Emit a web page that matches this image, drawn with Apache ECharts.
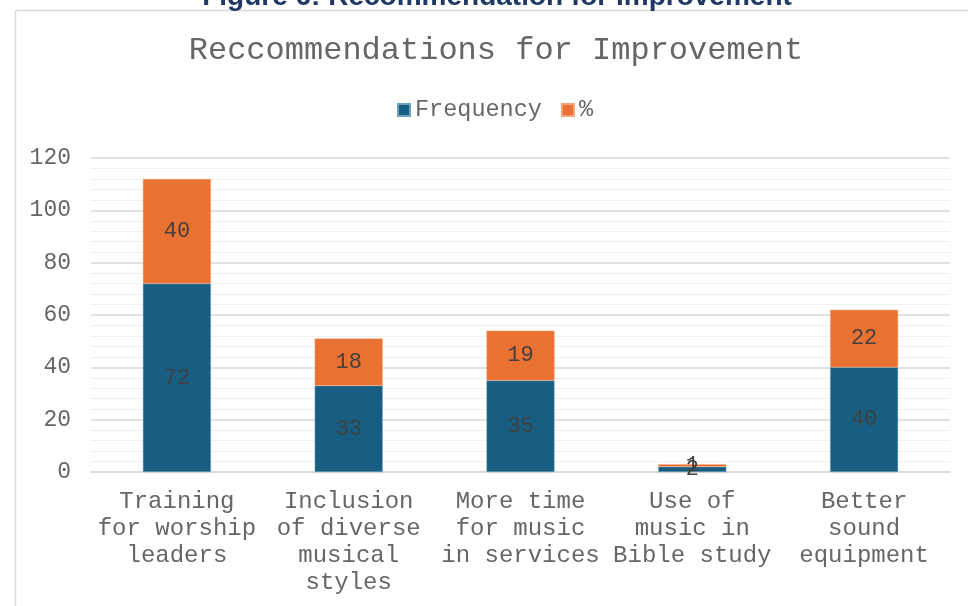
<!DOCTYPE html>
<html><head><meta charset="utf-8">
<script src="https://cdn.jsdelivr.net/npm/echarts@6/dist/echarts.min.js"></script>
<style>html,body{margin:0;padding:0;background:#fff}#c{width:968px;height:606px}</style>
</head><body><div id="c"></div>
<script>
const categories = ["Training\nfor worship\nleaders", "Inclusion\nof diverse\nmusical\nstyles", "More time\nfor music\nin services", "Use of\nmusic in\nBible study", "Better\nsound\nequipment"];
const frequency = [72, 33, 35, 2, 40];
const percent = [40, 18, 19, 1, 22];
const yTicks = [0, 20, 40, 60, 80, 100, 120];

const mono = '"Liberation Mono", "Courier New", monospace';
const chart = echarts.init(document.getElementById('c'));
chart.setOption({
  animation: false,
  graphic: [
    { type: 'rect', shape: { x: 15.5, y: 10.5, width: 1000, height: 700 }, style: { fill: 'none', stroke: '#d9d9d9', lineWidth: 1.5 }, z: -1 },
    { type: 'text', x: 497, y: 11, style: { text: 'Figure 6: Recommendation for Improvement', font: 'bold 28px "Liberation Sans", Arial, sans-serif', fill: '#1f3864', textAlign: 'center', textVerticalAlign: 'bottom' } }
  ],
  title: {
    text: 'Reccommendations for Improvement',
    left: 491, top: 30, textAlign: 'center',
    textStyle: { fontFamily: mono, fontSize: 32, fontWeight: 'normal', color: '#666666' }
  },
  legend: {
    top: 93, left: 392,
    itemWidth: 12, itemHeight: 12, itemGap: 19,
    icon: 'rect',
    textStyle: { fontFamily: mono, fontSize: 23.5, color: '#666666' },
    data: ['Frequency', '%']
  },
  grid: { left: 91, right: 18, top: 158, bottom: 134, containLabel: false },
  xAxis: {
    type: 'category', data: categories,
    axisLine: { lineStyle: { color: '#d9d9d9', width: 1.5 } },
    axisTick: { show: false },
    axisLabel: { fontFamily: mono, fontSize: 24, color: '#666666', lineHeight: 27, margin: 16, interval: 0 }
  },
  yAxis: {
    type: 'value', min: 0, max: 120, interval: 20,
    axisLabel: { fontFamily: mono, fontSize: 23, color: '#666666', margin: 20 },
    axisLine: { show: false }, axisTick: { show: false },
    splitLine: { lineStyle: { color: '#d9d9d9', width: 1.5 } },
    minorTick: { show: false, splitNumber: 5 },
    minorSplitLine: { show: true, lineStyle: { color: '#efefef', width: 1.2 } }
  },
  series: [
    { name: 'Frequency', type: 'bar', stack: 's', data: frequency, barWidth: 68,
      itemStyle: { color: '#175e82', borderColor: '#6fa3bd', borderWidth: 0.5 },
      label: { show: true, position: 'inside', fontFamily: mono, fontSize: 22, color: '#404040' } },
    { name: '%', type: 'bar', stack: 's', data: percent, barWidth: 68,
      itemStyle: { color: '#e97132', borderColor: '#f2a37a', borderWidth: 0.5 },
      label: { show: true, position: 'inside', fontFamily: mono, fontSize: 22, color: '#404040' } }
  ]
});
</script></body></html>
